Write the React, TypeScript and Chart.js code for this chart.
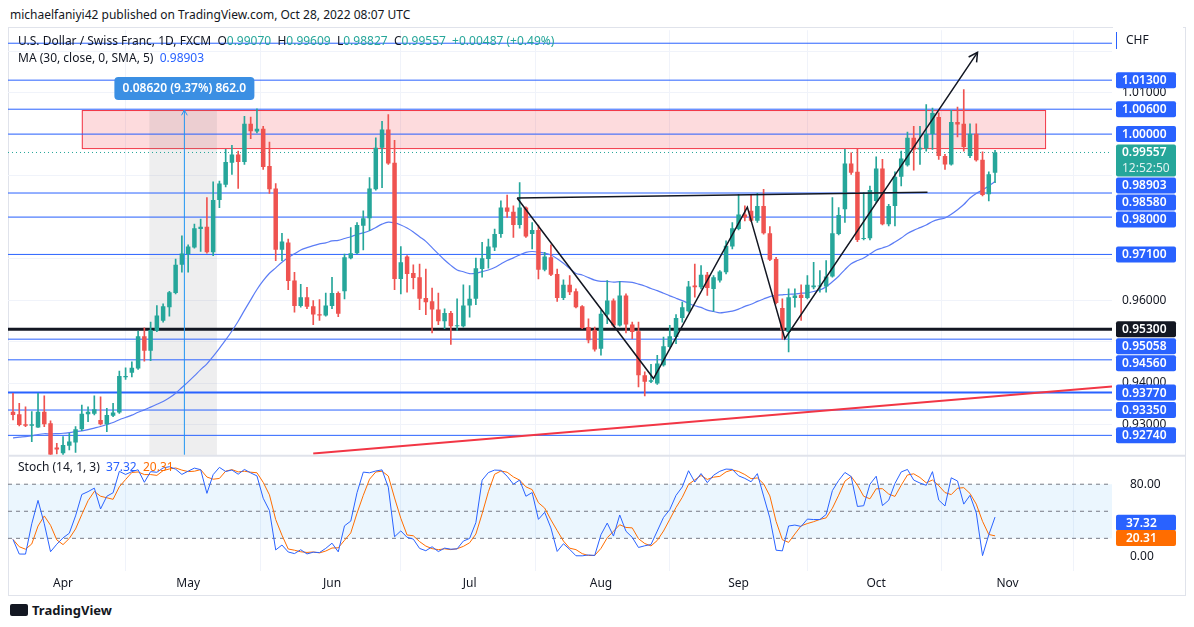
import { useEffect, useRef } from "react";
import { Chart, registerables } from "chart.js";
Chart.register(...registerables);

// [open, high, low, close] daily USD/CHF, Mar 22 – Oct 28 2022
const candles: number[][] = [
  [0.9331,0.9375,0.9311,0.9323],[0.9325,0.9351,0.9297,0.9299],[0.9301,0.9343,0.9295,0.9297],[0.9297,0.9331,0.9259,0.9301],
  [0.9293,0.9375,0.9293,0.9331],[0.9331,0.9369,0.9295,0.9301],[0.9303,0.9309,0.9219,0.9227],[0.9245,0.9255,0.9229,0.9240],
  [0.9231,0.9271,0.9225,0.9251],[0.9249,0.9279,0.9239,0.9259],[0.9257,0.9295,0.9233,0.9289],[0.9289,0.9347,0.9285,0.9326],
  [0.9325,0.9343,0.9307,0.9331],[0.9326,0.9369,0.9323,0.9337],[0.9311,0.9367,0.9299,0.9301],[0.9301,0.9339,0.9283,0.9323],
  [0.9321,0.9351,0.9319,0.9329],[0.9329,0.9429,0.9327,0.9417],[0.9414,0.9437,0.9409,0.9417],[0.9425,0.9451,0.9415,0.9437],
  [0.9435,0.9525,0.9433,0.9513],[0.9513,0.9533,0.9453,0.9478],[0.9478,0.9547,0.9454,0.9528],[0.9526,0.9587,0.9524,0.9563],
  [0.9550,0.9591,0.9547,0.9585],[0.9583,0.9621,0.9561,0.9619],[0.9617,0.9699,0.9615,0.9685],[0.9685,0.9755,0.9667,0.9712],
  [0.9711,0.9733,0.9667,0.9729],[0.9727,0.9783,0.9725,0.9773],[0.9771,0.9795,0.9717,0.9777],[0.9777,0.9847,0.9713,0.9715],
  [0.9715,0.9885,0.9707,0.9841],[0.9841,0.9887,0.9823,0.9881],[0.9878,0.9963,0.9873,0.9933],[0.9931,0.9973,0.9903,0.9951],
  [0.9951,0.9959,0.9869,0.9933],[0.9933,1.0043,0.9927,1.0025],[1.0025,1.0041,0.9989,1.0007],[1.0006,1.0061,1.0003,1.0013],
  [1.0013,1.0019,0.9915,0.9921],[0.9923,0.9981,0.9857,0.9867],[0.9869,0.9881,0.9695,0.9721],[0.9721,0.9761,0.9695,0.9741],
  [0.9739,0.9747,0.9625,0.9646],[0.9647,0.9667,0.9571,0.9586],[0.9586,0.9638,0.9583,0.9607],[0.9607,0.9631,0.9579,0.9584],
  [0.9585,0.9599,0.9541,0.9565],[0.9566,0.9601,0.9551,0.9563],[0.9563,0.9617,0.9561,0.9587],[0.9586,0.9655,0.9579,0.9617],
  [0.9617,0.9620,0.9560,0.9567],
  [0.9621,0.9711,0.9603,0.9703],[0.9701,0.9775,0.9699,0.9713],[0.9713,0.9787,0.9712,0.9781],[0.9779,0.9815,0.9721,0.9797],
  [0.9797,0.9895,0.9767,0.9869],[0.9867,0.9991,0.9865,0.9967],[0.9967,1.0031,0.9871,1.0011],[1.0011,1.0047,0.9927,0.9929],
  [0.9931,0.9985,0.9625,0.9651],[0.9651,0.9729,0.9615,0.9691],[0.9705,0.9707,0.9619,0.9663],[0.9665,0.9685,0.9627,0.9653],
  [0.9655,0.9687,0.9577,0.9603],[0.9605,0.9675,0.9565,0.9595],[0.9597,0.9629,0.9521,0.9577],[0.9577,0.9617,0.9541,0.9549],
  [0.9549,0.9579,0.9531,0.9569],[0.9569,0.9573,0.9493,0.9537],[0.9537,0.9603,0.9527,0.9539],[0.9537,0.9637,0.9535,0.9587],
  [0.9587,0.9635,0.9559,0.9603],[0.9603,0.9701,0.9589,0.9677],[0.9675,0.9739,0.9655,0.9701],[0.9699,0.9747,0.9677,0.9729],
  [0.9727,0.9771,0.9719,0.9759],[0.9759,0.9839,0.9751,0.9823],[0.9823,0.9853,0.9799,0.9813],[0.9813,0.9827,0.9751,0.9781],
  [0.9781,0.9883,0.9773,0.9823],[0.9823,0.9825,0.9751,0.9753],[0.9759,0.9787,0.9723,0.9769],[0.9769,0.9781,0.9651,0.9673],
  [0.9673,0.9715,0.9670,0.9705],[0.9703,0.9733,0.9659,0.9661],[0.9663,0.9675,0.9597,0.9605],[0.9605,0.9649,0.9601,0.9637],
  [0.9637,0.9659,0.9613,0.9619],[0.9621,0.9627,0.9581,0.9583],[0.9585,0.9587,0.9531,0.9533],[0.9535,0.9555,0.9497,0.9503],
  [0.9527,0.9535,0.9477,0.9481],[0.9483,0.9575,0.9467,0.9567],[0.9565,0.9647,0.9543,0.9599],[0.9599,0.9603,0.9535,0.9539],
  [0.9539,0.9645,0.9537,0.9611],[0.9611,0.9615,0.9521,0.9541],[0.9541,0.9547,0.9507,0.9523],[0.9525,0.9547,0.9391,0.9419],
  [0.9419,0.9427,0.9369,0.9403],[0.9403,0.9445,0.9401,0.9407],[0.9399,0.9467,0.9397,0.9447],[0.9443,0.9511,0.9441,0.9489],
  [0.9487,0.9539,0.9485,0.9513],[0.9511,0.9565,0.9495,0.9557],[0.9557,0.9595,0.9547,0.9583],[0.9573,0.9645,0.9571,0.9633],
  [0.9635,0.9687,0.9607,0.9631],[0.9631,0.9683,0.9627,0.9661],[0.9661,0.9667,0.9611,0.9629],[0.9627,0.9659,0.9573,0.9655],
  [0.9647,0.9671,0.9643,0.9669],[0.9667,0.9743,0.9663,0.9731],[0.9729,0.9787,0.9723,0.9773],[0.9771,0.9855,0.9769,0.9806],
  [0.9806,0.9827,0.9791,0.9799],[0.9815,0.9855,0.9789,0.9791],[0.9791,0.9857,0.9787,0.9827],[0.9827,0.9867,0.9759,0.9761],
  [0.9761,0.9777,0.9695,0.9697],[0.9699,0.9703,0.9591,0.9593],[0.9581,0.9603,0.9505,0.9527],[0.9523,0.9627,0.9475,0.9607],
  [0.9605,0.9627,0.9583,0.9611],[0.9613,0.9637,0.9551,0.9605],[0.9605,0.9659,0.9603,0.9637],[0.9631,0.9691,0.9627,0.9635],
  [0.9633,0.9671,0.9619,0.9635],[0.9633,0.9695,0.9619,0.9657],[0.9657,0.9847,0.9655,0.9761],[0.9759,0.9823,0.9757,0.9805],
  [0.9819,0.9963,0.9787,0.9929],[0.9929,0.9955,0.9903,0.9907],[0.9909,0.9963,0.9741,0.9745],[0.9747,0.9859,0.9745,0.9749],
  [0.9749,0.9875,0.9745,0.9865],[0.9839,0.9945,0.9835,0.9917],[0.9917,0.9939,0.9781,0.9783],[0.9783,0.9831,0.9779,0.9827],
  [0.9827,0.9909,0.9779,0.9897],[0.9897,0.9959,0.9875,0.9941],[0.9925,1.0005,0.9923,0.9991],[0.9991,1.0019,0.9913,0.9963],
  [0.9963,1.0019,0.9927,0.9967],[0.9965,1.0071,0.9959,1.0001],[1.0000,1.0063,0.9963,1.0051],[1.0041,1.0051,0.9939,0.9947],
  [0.9947,0.9951,0.9915,0.9927],[0.9927,1.0057,0.9925,1.0029],[1.0029,1.0065,0.9993,1.0023],[1.0025,1.0107,0.9959,0.9969],
  [0.9947,1.0025,0.9943,1.0001],[1.0001,1.0025,0.9935,0.9937],[0.9938,0.9957,0.9851,0.9853],[0.9855,0.9909,0.9839,0.9903],
  [0.9907,0.99609,0.98827,0.99557],
];
// closes before Mar 22 (for the 30-day SMA)
const priorCloses = [0.9250,0.9260,0.9245,0.9230,0.9245,0.9240,0.9220,0.9225,0.9210,0.9225,0.9260,0.9240,0.9230,0.9190,0.9175,
  0.9185,0.9215,0.9255,0.9270,0.9300,0.9310,0.9330,0.9360,0.9380,0.9350,0.9355,0.9300,0.9320,0.9340];
const monthTickIndex = [8, 28, 51, 73, 94, 116, 138, 159];
const monthLabels = ["Apr", "May", "Jun", "Jul", "Aug", "Sep", "Oct", "Nov"];
const blueLevels = [1.0219, 1.013, 1.006, 1.0, 0.9858, 0.98, 0.971, 0.95058, 0.9456, 0.9377, 0.9335, 0.9274];
const labelLevels = [1.013, 1.006, 1.0, 0.98903, 0.9858, 0.98, 0.971, 0.953, 0.95058, 0.9456, 0.9377, 0.9335, 0.9274];
const supportLevel = 0.953;
const lastPrice = 0.99557;
const shownPriceTicks = [1.01, 0.96, 0.94, 0.93];
const zone = { x0: 11, x1: 165, top: 1.0058, bottom: 0.99663 };
const measure = { x0: 21.8, x1: 32.6, xMid: 27.4, top: 1.0058 };
const zigzag = [{ x: 80.6, y: 0.9846 }, { x: 102.4, y: 0.9411 }, { x: 117.4, y: 0.9824 }, { x: 123.4, y: 0.9507 }, { x: 154.2, y: 1.0197 }];
const flatLine = [{ x: 80.6, y: 0.9846 }, { x: 146.2, y: 0.986 }];
const redTrend = [{ x: 48, y: 0.923 }, { x: 175.7, y: 0.93915 }];
const stochLast = { k: 37.32, d: 20.31 };

const X_MIN = -0.8, X_MAX = 175.7;
const UP = "#26a69a", DOWN = "#ef5350", BLUE = "#2962ff";
const FONT = "'Noto Sans', 'DejaVu Sans', sans-serif";
const CANVAS_TOP = 13;
const CANVAS_H = 584;

function computeMA() {
  const all = [...priorCloses, ...candles.map((c) => c[3])];
  const p = priorCloses.length;
  return candles.map((_, i) => {
    const w = all.slice(i + p - 29, i + p + 1);
    return { x: i, y: w.reduce((a, b) => a + b, 0) / w.length };
  });
}
function computeStoch() {
  const k: number[] = candles.map((c, i) => {
    const w = candles.slice(Math.max(0, i - 13), i + 1);
    const hh = Math.max(...w.map((q) => q[1]));
    const ll = Math.min(...w.map((q) => q[2]));
    return hh === ll ? 50 : (100 * (c[3] - ll)) / (hh - ll);
  });
  const d = k.map((_, i) => {
    const w = k.slice(Math.max(0, i - 2), i + 1);
    return w.reduce((a, b) => a + b, 0) / w.length;
  });
  return { k: k.map((y, x) => ({ x, y })), d: d.map((y, x) => ({ x, y })) };
}

function box(ctx: CanvasRenderingContext2D, x: number, y: number, w: number, h: number, r: number) {
  ctx.beginPath();
  ctx.moveTo(x + r, y);
  ctx.arcTo(x + w, y, x + w, y + h, r);
  ctx.arcTo(x + w, y + h, x, y + h, r);
  ctx.arcTo(x, y + h, x, y, r);
  ctx.arcTo(x, y, x + w, y, r);
  ctx.closePath();
}
function segs(ctx: CanvasRenderingContext2D, x: number, y: number, list: [string, string][]) {
  let cx = x;
  for (const [t, c] of list) {
    ctx.fillStyle = c;
    ctx.fillText(t, cx, y);
    cx += ctx.measureText(t).width;
  }
}
function arrowHead(ctx: CanvasRenderingContext2D, fx: number, fy: number, tx: number, ty: number, len: number) {
  const a = Math.atan2(ty - fy, tx - fx);
  ctx.beginPath();
  ctx.moveTo(tx - len * Math.cos(a - 0.5), ty - len * Math.sin(a - 0.5));
  ctx.lineTo(tx, ty);
  ctx.lineTo(tx - len * Math.cos(a + 0.5), ty - len * Math.sin(a + 0.5));
  ctx.stroke();
}

const overlay = {
  id: "overlay",
  beforeDatasetsDraw(chart: any) {
    const { ctx, chartArea: ca } = chart;
    const x = chart.scales.x, y = chart.scales.y, y2 = chart.scales.y2;
    ctx.save();
    const b80 = y2.getPixelForValue(80), b20 = y2.getPixelForValue(20), b50 = y2.getPixelForValue(50);
    ctx.fillStyle = "rgba(33,150,243,0.09)";
    ctx.fillRect(ca.left, b80, ca.right - ca.left, b20 - b80);
    ctx.strokeStyle = "#787b86";
    ctx.lineWidth = 1;
    ctx.setLineDash([4, 4]);
    for (const v of [b80, b50, b20]) {
      ctx.beginPath(); ctx.moveTo(ca.left, v); ctx.lineTo(ca.right, v); ctx.stroke();
    }
    ctx.setLineDash([]);
    ctx.fillStyle = "#e0e3eb";
    ctx.fillRect(0, y.bottom, chart.width, 2);
    const zx0 = x.getPixelForValue(zone.x0), zx1 = x.getPixelForValue(zone.x1);
    const zt = y.getPixelForValue(zone.top), zb = y.getPixelForValue(zone.bottom);
    ctx.fillStyle = "rgba(242,54,69,0.18)";
    ctx.fillRect(zx0, zt, zx1 - zx0, zb - zt);
    ctx.strokeStyle = "#f23645";
    ctx.strokeRect(zx0 + 0.5, zt + 0.5, zx1 - zx0, zb - zt);
    const mx0 = x.getPixelForValue(measure.x0), mx1 = x.getPixelForValue(measure.x1);
    const mt = y.getPixelForValue(measure.top);
    ctx.fillStyle = "rgba(120,123,134,0.13)";
    ctx.fillRect(mx0, mt, mx1 - mx0, y.bottom - mt);
    ctx.restore();
  },
  afterDatasetsDraw(chart: any) {
    const { ctx, chartArea: ca } = chart;
    const x = chart.scales.x, y = chart.scales.y, y2 = chart.scales.y2;
    ctx.save();
    const mm = x.getPixelForValue(measure.xMid), mt = y.getPixelForValue(measure.top);
    ctx.strokeStyle = "#2196f3";
    ctx.lineWidth = 1;
    ctx.beginPath(); ctx.moveTo(mm, y.bottom); ctx.lineTo(mm, mt); ctx.stroke();
    arrowHead(ctx, mm, mt + 20, mm, mt, 6);
    ctx.fillStyle = "#3b8fe3";
    box(ctx, mm - 70, mt - 33, 140, 23, 4);
    ctx.fill();
    ctx.fillStyle = "#fff";
    ctx.font = `600 12px ${FONT}`;
    ctx.textAlign = "center";
    ctx.textBaseline = "middle";
    ctx.fillText("0.08620 (9.37%) 862.0", mm, mt - 21);
    const a = zigzag[zigzag.length - 2], bpt = zigzag[zigzag.length - 1];
    ctx.strokeStyle = "#131722";
    ctx.lineWidth = 1.5;
    arrowHead(ctx, x.getPixelForValue(a.x), y.getPixelForValue(a.y), x.getPixelForValue(bpt.x), y.getPixelForValue(bpt.y), 10);
    ctx.textAlign = "left";
    ctx.font = `12px ${FONT}`;
    segs(ctx, 10, 42 - CANVAS_TOP, [["U.S. Dollar / Swiss Franc, 1D, FXCM  ", "#131722"], ["O", "#131722"], ["0.99070", UP], ["  H", "#131722"], ["0.99609", UP], ["  L", "#131722"], ["0.98827", UP], ["  C", "#131722"], ["0.99557", UP], ["  +0.00487 (+0.49%)", UP]]);
    segs(ctx, 10, 59 - CANVAS_TOP, [["MA (30, close, 0, SMA, 5)  ", "#131722"], ["0.98903", BLUE]]);
    segs(ctx, 10, y.bottom + 13, [["Stoch (14, 1, 3)  ", "#131722"], ["37.32", BLUE], ["  ", "#131722"], ["20.31", "#ff6d00"]]);
    const ax = ca.right;
    ctx.fillStyle = "#fff";
    ctx.fillRect(ax + 1, 0, 70, 52 - CANVAS_TOP);
    ctx.strokeStyle = BLUE;
    ctx.lineWidth = 1;
    ctx.beginPath(); ctx.moveTo(ax + 4.5, 32 - CANVAS_TOP); ctx.lineTo(ax + 4.5, 49 - CANVAS_TOP); ctx.stroke();
    ctx.fillStyle = "#131722";
    ctx.fillText("CHF", ax + 14, 41 - CANVAS_TOP);
    const items: { v: number; text: string; bg: string; h: number }[] = labelLevels.map((v) => ({
      v, text: v.toFixed(5), bg: v === supportLevel ? "#131722" : BLUE, h: 16,
    }));
    items.push({ v: lastPrice, text: lastPrice.toFixed(5), bg: UP, h: 32 });
    items.sort((p, q) => q.v - p.v);
    let prevBottom = -1e9;
    ctx.font = `600 12px ${FONT}`;
    for (const it of items) {
      const py = y.getPixelForValue(it.v);
      let top = it.h === 32 ? py - 8 : py - it.h / 2;
      if (top < prevBottom + 1) top = prevBottom + 1;
      prevBottom = top + it.h;
      ctx.fillStyle = it.bg;
      box(ctx, ax + 4, top, 60, it.h, 2);
      ctx.fill();
      ctx.fillStyle = "#fff";
      ctx.fillText(it.text, ax + 10, top + 8.5);
      if (it.h === 32) {
        ctx.fillStyle = "rgba(255,255,255,0.85)";
        ctx.font = `12px ${FONT}`;
        ctx.fillText("12:52:50", ax + 10, top + 24);
        ctx.font = `600 12px ${FONT}`;
      }
    }
    const sl = [{ v: stochLast.k, bg: BLUE }, { v: stochLast.d, bg: "#ff6d00" }];
    for (const s of sl) {
      const py = y2.getPixelForValue(s.v);
      ctx.fillStyle = s.bg;
      box(ctx, ax + 4, py - 8, 60, 16, 2);
      ctx.fill();
      ctx.fillStyle = "#fff";
      ctx.fillText(s.v.toFixed(2), ax + 14, py + 0.5);
    }
    ctx.restore();
  },
};

const hline = (v: number, color: string, width: number, dash: number[] = [], order = 5) => ({
  type: "line" as const,
  data: [{ x: X_MIN, y: v }, { x: X_MAX, y: v }],
  borderColor: color,
  borderWidth: width,
  borderDash: dash,
  pointRadius: 0,
  yAxisID: "y",
  order,
});

export default function App() {
  const ref = useRef<HTMLCanvasElement>(null);
  useEffect(() => {
    if (!ref.current) return;
    const ma = computeMA();
    const st = computeStoch();
    const colors = candles.map((c) => (c[3] >= c[0] ? UP : DOWN));
    const chart = new Chart(ref.current, {
      type: "bar",
      data: {
        datasets: [
          ...blueLevels.map((v) => hline(v, BLUE, v === 0.9377 ? 2 : 1)),
          hline(supportLevel, "#131722", 3),
          hline(lastPrice, UP, 1, [1, 3]),
          { type: "line", data: redTrend, borderColor: "#f23645", borderWidth: 2, pointRadius: 0, yAxisID: "y", order: 4 },
          { type: "line", data: ma, borderColor: "#5b7cf5", borderWidth: 1.2, pointRadius: 0, yAxisID: "y", order: 3, tension: 0.3 },
          {
            type: "bar", data: candles.map((c, i) => ({ x: i, y: [c[2], c[1]] })) as any,
            backgroundColor: colors, barThickness: 1, grouped: false, yAxisID: "y", order: 2,
          },
          {
            type: "bar", data: candles.map((c, i) => ({ x: i, y: [c[0], c[3]] })) as any,
            backgroundColor: colors, barPercentage: 0.72, categoryPercentage: 1, grouped: false, minBarLength: 1, yAxisID: "y", order: 1,
          },
          { type: "line", data: flatLine, borderColor: "#131722", borderWidth: 1.5, pointRadius: 0, yAxisID: "y", order: 0 },
          { type: "line", data: zigzag, borderColor: "#131722", borderWidth: 1.5, pointRadius: 0, yAxisID: "y", order: 0 },
          { type: "line", data: st.k, borderColor: BLUE, borderWidth: 1, pointRadius: 0, yAxisID: "y2", order: 0 },
          { type: "line", data: st.d, borderColor: "#ff6d00", borderWidth: 1, pointRadius: 0, yAxisID: "y2", order: 0 },
        ] as any,
      },
      options: {
        animation: false,
        responsive: false,
        layout: { padding: 0 },
        plugins: { legend: { display: false }, tooltip: { enabled: false } },
        scales: {
          x: {
            type: "linear", min: X_MIN, max: X_MAX, offset: false,
            afterBuildTicks: (s: any) => { s.ticks = monthTickIndex.map((v) => ({ value: v })); },
            ticks: {
              autoSkip: false, maxRotation: 0, color: "#131722", padding: 6,
              font: { family: FONT, size: 12 },
              callback: (v: any) => monthLabels[monthTickIndex.indexOf(Number(v))] ?? "",
            },
            grid: { color: "#f0f3fa", drawTicks: false },
            border: { display: false },
          },
          y: {
            position: "right", stack: "pane", stackWeight: 425, min: 0.92273, max: 1.02504,
            afterBuildTicks: (s: any) => {
              s.ticks = [1.02, 1.01, 1.0, 0.99, 0.98, 0.97, 0.96, 0.95, 0.94, 0.93].map((v) => ({ value: v }));
            },
            afterFit: (s: any) => { s.width = 74; },
            ticks: {
              color: "#131722", padding: 10, font: { family: FONT, size: 12 },
              callback: (v: any) => (shownPriceTicks.some((t) => Math.abs(t - Number(v)) < 1e-6) ? Number(v).toFixed(5) : ""),
            },
            grid: { color: "#f0f3fa", drawTicks: false },
            border: { display: false },
          },
          y2: {
            position: "right", stack: "pane", stackWeight: 116, min: -15.8, max: 112.7,
            afterBuildTicks: (s: any) => { s.ticks = [0, 80].map((v) => ({ value: v })); },
            afterFit: (s: any) => { s.width = 74; },
            ticks: { color: "#131722", padding: 10, font: { family: FONT, size: 12 }, callback: (v: any) => Number(v).toFixed(2) },
            grid: { display: false },
            border: { display: false },
          },
        },
      },
      plugins: [overlay],
    });
    return () => chart.destroy();
  }, []);

  return (
    <div style={{ position: "fixed", inset: 0, background: "#fff", fontFamily: FONT }}>
      <div style={{ position: "absolute", left: 10, top: 6, fontSize: 12, color: "#131722" }}>
        michaelfaniyi42 published on TradingView.com, Oct 28, 2022 08:07 UTC
      </div>
      <div style={{ position: "absolute", left: 8, top: 27, width: 1178, height: 569, border: "1px solid #e0e3eb", boxSizing: "border-box" }} />
      <canvas ref={ref} width={1178} height={CANVAS_H} style={{ position: "absolute", left: 8, top: CANVAS_TOP, width: 1178, height: CANVAS_H }} />
      <div style={{ position: "absolute", left: 10, top: 601, display: "flex", alignItems: "center", gap: 4 }}>
        <div style={{ width: 18, height: 12, background: "#131722", borderRadius: 2 }} />
        <span style={{ fontSize: 13, fontWeight: 700, color: "#131722" }}>TradingView</span>
      </div>
    </div>
  );
}
